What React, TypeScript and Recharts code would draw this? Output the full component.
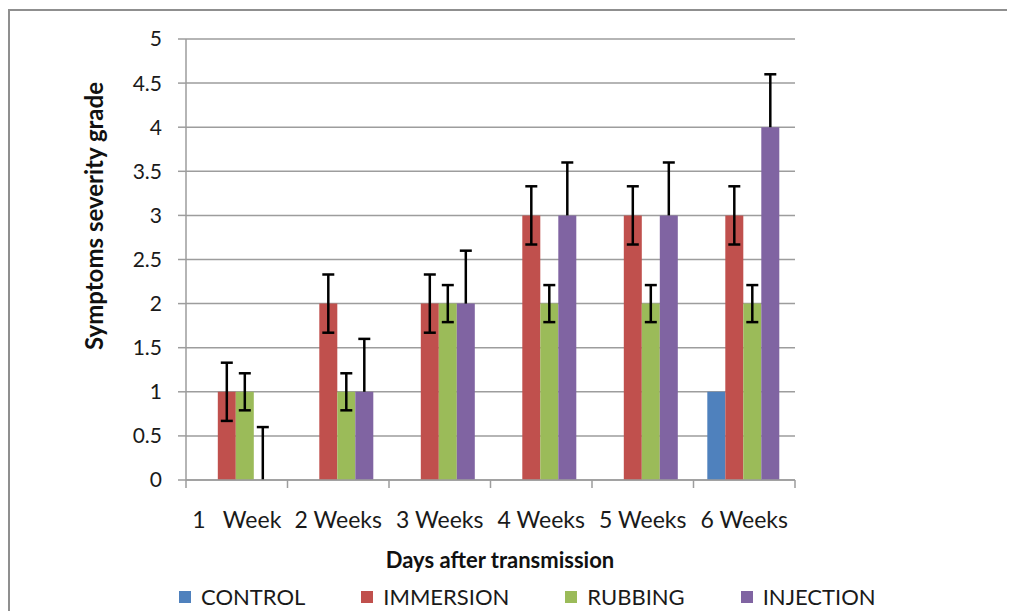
import React from 'react';
import { BarChart, Bar, XAxis, YAxis, CartesianGrid, ErrorBar, Legend, Label } from 'recharts';

const categories = ['1\u00a0\u00a0\u00a0Week', '2 Weeks', '3 Weeks', '4 Weeks', '5 Weeks', '6 Weeks'];
const control = [0, 0, 0, 0, 0, 1];
const immersion = [1, 2, 2, 3, 3, 3];
const rubbing = [1, 1, 2, 2, 2, 2];
const injection = [0, 1, 2, 3, 3, 4];
const immersionErr = [0.33, 0.33, 0.33, 0.33, 0.33, 0.33];
const rubbingErr = [0.21, 0.21, 0.21, 0.21, 0.21, 0.21];
// injection only has a plus error bar
const injectionErrUp = [0.6, 0.6, 0.6, 0.6, 0.6, 0.6];
const yTicks = [0, 0.5, 1, 1.5, 2, 2.5, 3, 3.5, 4, 4.5, 5];

const series = [
  { key: 'control', name: 'CONTROL', color: '#4F81BD' },
  { key: 'immersion', name: 'IMMERSION', color: '#C0504D' },
  { key: 'rubbing', name: 'RUBBING', color: '#9BBB59' },
  { key: 'injection', name: 'INJECTION', color: '#8064A2' },
];

const data = categories.map((week, i) => ({
  week,
  control: control[i],
  immersion: immersion[i],
  rubbing: rubbing[i],
  injection: injection[i],
  immErr: immersionErr[i],
  rubErr: rubbingErr[i],
  injErr: injectionErrUp[i],
}));

const FONT = 'Lato, "Open Sans", sans-serif';
const GRID = '#9d9d9d';

// Excel puts category ticks on the boundaries, so draw them ourselves
const WeekTick = (props: any) => {
  const { x, y, payload, index } = props;
  const half = payload.offset || 0;
  return (
    <g>
      <line x1={x - half} y1={y - 8} x2={x - half} y2={y} stroke={GRID} strokeWidth={1.5} />
      {index === categories.length - 1 && (
        <line x1={x + half} y1={y - 8} x2={x + half} y2={y} stroke={GRID} strokeWidth={1.5} />
      )}
      <text x={x} y={y + 40} textAnchor="middle" fontSize={23} fill="#1a1a1a" fontFamily={FONT}>
        {payload.value}
      </text>
    </g>
  );
};

// one-sided error bar drawn on a transparent stacked segment
const PlusError = (props: any) => {
  const { x, y, width, height } = props;
  const cx = x + width / 2;
  return (
    <g>
      <line x1={cx} y1={y} x2={cx} y2={y + height} stroke="#000" strokeWidth={2.5} />
      <line x1={cx - 6} y1={y} x2={cx + 6} y2={y} stroke="#000" strokeWidth={2.5} />
    </g>
  );
};

const LegendContent = () => (
  <div style={{ display: 'flex', gap: 56, fontFamily: FONT, fontSize: 22, color: '#1a1a1a' }}>
    {series.map((s) => (
      <div key={s.key} style={{ display: 'flex', alignItems: 'center' }}>
        <span style={{ width: 12, height: 12, background: s.color, marginRight: 10, display: 'inline-block' }} />
        <span>{s.name}</span>
      </div>
    ))}
  </div>
);

export default function App() {
  return (
    <div style={{ position: 'relative', width: 1007, height: 603, fontFamily: FONT }}>
      <div
        style={{
          position: 'absolute',
          left: 0,
          top: 1,
          width: 1007,
          height: 602,
          borderTop: '2px solid #8f8f8f',
          borderLeft: '2px solid #8f8f8f',
          boxSizing: 'border-box',
        }}
      />
      <BarChart
        width={1007}
        height={603}
        data={data}
        margin={{ top: 31, right: 220, left: 0, bottom: 71 }}
        barCategoryGap="13.6%"
        barGap={0}
      >
        <CartesianGrid vertical={false} stroke={GRID} strokeWidth={1.5} />
        <XAxis
          dataKey="week"
          height={60}
          interval={0}
          tickLine={false}
          axisLine={{ stroke: GRID, strokeWidth: 1.5 }}
          tick={<WeekTick />}
        >
          <Label
            content={() => (
              <text x={492} y={560} textAnchor="middle" fontSize={22} fontWeight="bold" fill="#111" fontFamily={FONT}>
                Days after transmission
              </text>
            )}
          />
        </XAxis>
        <YAxis
          width={178}
          domain={[0, 5]}
          ticks={yTicks}
          interval={0}
          tickSize={8}
          tickMargin={16}
          tickLine={{ stroke: GRID, strokeWidth: 1.5 }}
          axisLine={{ stroke: GRID, strokeWidth: 1.5 }}
          tick={{ fontSize: 21, fill: '#1a1a1a', fontFamily: FONT }}
        >
          <Label
            content={() => (
              <text
                x={85}
                y={208}
                transform="rotate(-90 85 208)"
                textAnchor="middle"
                dominantBaseline="central"
                fontSize={24}
                fontWeight="bold"
                fill="#111"
                fontFamily={FONT}
              >
                Symptoms severity grade
              </text>
            )}
          />
        </YAxis>
        <Legend
          layout="horizontal"
          verticalAlign="middle"
          align="center"
          content={<LegendContent />}
          wrapperStyle={{ top: 575, left: 171, width: 'auto' }}
        />
        <Bar dataKey="control" name="CONTROL" stackId="c" fill="#4F81BD" isAnimationActive={false} />
        <Bar dataKey="immersion" name="IMMERSION" stackId="m" fill="#C0504D" isAnimationActive={false}>
          <ErrorBar dataKey="immErr" direction="y" width={6} strokeWidth={2.5} stroke="#000" />
        </Bar>
        <Bar dataKey="rubbing" name="RUBBING" stackId="r" fill="#9BBB59" isAnimationActive={false}>
          <ErrorBar dataKey="rubErr" direction="y" width={6} strokeWidth={2.5} stroke="#000" />
        </Bar>
        <Bar dataKey="injection" name="INJECTION" stackId="inj" fill="#8064A2" isAnimationActive={false} />
        <Bar
          dataKey="injErr"
          stackId="inj"
          fill="transparent"
          legendType="none"
          shape={<PlusError />}
          isAnimationActive={false}
        />
      </BarChart>
    </div>
  );
}
